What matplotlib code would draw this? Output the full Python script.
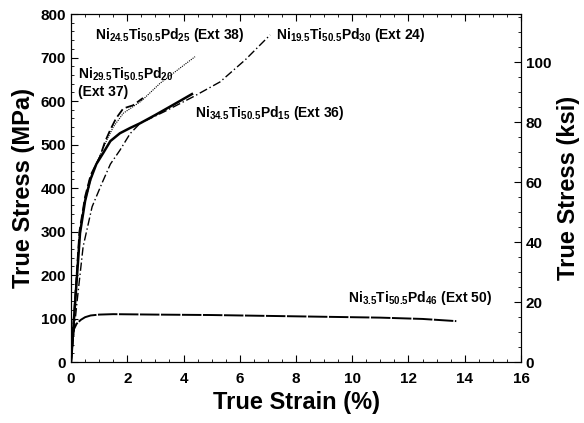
import matplotlib
matplotlib.use("Agg")
import matplotlib.pyplot as plt
from matplotlib.ticker import MultipleLocator

plt.rcParams["font.family"] = ["Liberation Sans", "DejaVu Sans"]
plt.rcParams["font.weight"] = "bold"
plt.rcParams["mathtext.fontset"] = "custom"
plt.rcParams["mathtext.rm"] = "Liberation Sans:bold"
plt.rcParams["mathtext.bf"] = "Liberation Sans:bold"
plt.rcParams["mathtext.it"] = "Liberation Sans:bold"

# true strain (%) / true stress (MPa)
ext36_x = [0, 0.15, 0.32, 0.5, 0.68, 0.9, 1.14, 1.4, 1.74, 2.1, 2.46, 3.0, 3.6, 4.3]
ext36_y = [0, 140, 296, 370, 418, 455, 480, 508, 526, 538, 549, 568, 590, 616]

ext37_x = [0, 0.15, 0.3, 0.5, 0.7, 1.03, 1.2, 1.39, 1.6, 1.86, 2.2, 2.56]
ext37_y = [0, 150, 300, 380, 430, 472, 505, 533, 560, 583, 590, 607]

ext38_x = [0, 0.15, 0.3, 0.5, 0.8, 1.27, 1.5, 1.86, 2.5, 3.17, 3.8, 4.41]
ext38_y = [0, 145, 290, 370, 440, 510, 540, 572, 600, 641, 672, 702]

ext24_x = [0, 0.2, 0.43, 0.75, 1.1, 1.4, 1.74, 2.1, 2.46, 3.3, 4.35, 5.3, 6.2, 7.08]
ext24_y = [0, 130, 265, 357, 411, 455, 487, 525, 549, 575, 610, 644, 695, 752]

ext50_x = [0, 0.05, 0.1, 0.2, 0.35, 0.5, 0.7, 1.0, 1.5, 3.0, 5.0, 7.0, 9.0, 11.0, 12.5, 13.7]
ext50_y = [0, 45, 75, 88, 97, 103, 107, 109, 110, 109, 108, 106, 104, 102, 99, 94]

labels = [
    (r"$\mathbf{Ni_{24.5}Ti_{50.5}Pd_{25}}$ (Ext 38)", 0.85, 752),
    (r"$\mathbf{Ni_{29.5}Ti_{50.5}Pd_{20}}$", 0.25, 662),
    ("(Ext 37)", 0.25, 620),
    (r"$\mathbf{Ni_{19.5}Ti_{50.5}Pd_{30}}$ (Ext 24)", 7.3, 752),
    (r"$\mathbf{Ni_{34.5}Ti_{50.5}Pd_{15}}$ (Ext 36)", 4.4, 572),
    (r"$\mathbf{Ni_{3.5}Ti_{50.5}Pd_{46}}$ (Ext 50)", 9.85, 147),
]

fig = plt.figure(figsize=(5.84, 4.23), dpi=100)
ax = fig.add_axes([0.1216, 0.1442, 0.7705, 0.8226])

ax.plot(ext36_x, ext36_y, color="black", lw=1.8, ls="-")
ax.plot(ext37_x, ext37_y, color="black", lw=1.3, ls=(0, (5, 2)))
ax.plot(ext38_x, ext38_y, color="black", lw=0.8, ls=(0, (1, 1)))
ax.plot(ext24_x, ext24_y, color="black", lw=1.0, ls=(0, (6, 2, 1, 2)))
ax.plot(ext50_x, ext50_y, color="black", lw=1.4, ls=(0, (10, 0.8)))

for txt, x, y in labels:
    ax.text(x, y, txt, fontsize=10, fontweight="bold", va="center", ha="left")

ax.set_xlim(0, 16)
ax.set_ylim(0, 800)
ax.xaxis.set_major_locator(MultipleLocator(2))
ax.xaxis.set_minor_locator(MultipleLocator(0.5))
ax.yaxis.set_major_locator(MultipleLocator(100))
ax.yaxis.set_minor_locator(MultipleLocator(20))
ax.tick_params(which="both", direction="in", top=True, labelsize=11)
ax.tick_params(which="major", length=5)
ax.tick_params(which="minor", length=2.5)
ax.tick_params(axis="x", pad=7)
ax.set_xlabel("True Strain (%)", fontsize=17, fontweight="bold", labelpad=4)
ax.set_ylabel("True Stress (MPa)", fontsize=17, fontweight="bold")

ax2 = ax.twinx()
ax2.set_ylim(0, 800 / 6.895)
ax2.yaxis.set_major_locator(MultipleLocator(20))
ax2.yaxis.set_minor_locator(MultipleLocator(5))
ax2.tick_params(which="both", direction="in", labelsize=11)
ax2.tick_params(which="major", length=5)
ax2.tick_params(which="minor", length=2.5)
ax2.set_ylabel("True Stress (ksi)", fontsize=17, fontweight="bold")

for a in (ax, ax2):
    for lab in a.get_xticklabels() + a.get_yticklabels():
        lab.set_fontweight("bold")

fig.savefig("out.png", dpi=100)
